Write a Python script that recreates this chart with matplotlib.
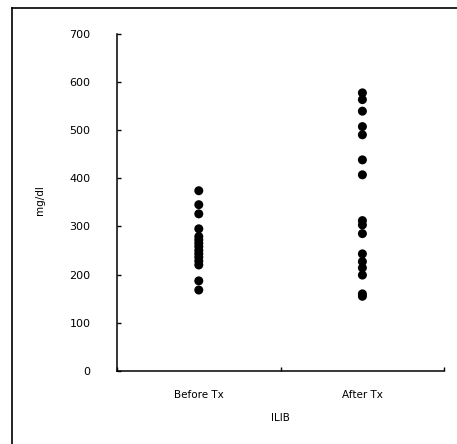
import numpy as np
import matplotlib
matplotlib.use("Agg")
import matplotlib.pyplot as plt
from matplotlib.lines import Line2D

# values (mg/dl)
groups = ["Before Tx", "After Tx"]
before_tx = [374, 345, 326, 295, 279, 272, 265, 258, 250, 243, 236, 228, 220, 187, 168]
after_tx = [577, 563, 539, 507, 490, 438, 407, 312, 303, 285, 243, 227, 214, 199, 160, 155]
yticks = [0, 100, 200, 300, 400, 500, 600, 700]

fig = plt.figure(figsize=(4.57, 4.44), dpi=100)
ax = fig.add_axes([0.256, 0.1644, 0.716, 0.760])

for i, vals in enumerate([before_tx, after_tx]):
    ax.scatter(np.full(len(vals), i + 0.5), vals, s=42, color="black", edgecolors="none")

ax.set_xlim(0, 2)
ax.set_ylim(0, 700)
ax.set_yticks(yticks)
ax.set_xticks([0, 1, 2])
ax.set_xticklabels([])
ax.set_xticks([0.5, 1.5], minor=True)
ax.set_xticklabels(groups, minor=True, fontsize=7.5)
ax.tick_params(axis="x", which="minor", length=0, pad=14)
ax.tick_params(axis="x", which="major", direction="in", length=3, width=1)
ax.tick_params(axis="y", direction="in", length=3, width=1, pad=19, labelsize=8)

ax.spines["top"].set_visible(False)
ax.spines["right"].set_visible(False)
ax.spines["left"].set_linewidth(1.1)
ax.spines["bottom"].set_linewidth(1.1)

ax.set_ylabel("mg/dl", fontsize=7.5)
ax.yaxis.set_label_coords(-0.22, 0.507)
ax.set_xlabel("ILIB", fontsize=7.5)
ax.xaxis.set_label_coords(0.5, -0.125)

# outer frame of the scanned figure (top and left edges only)
fig.add_artist(Line2D([12 / 457, 1], [1 - 8 / 444, 1 - 8 / 444], color="black", lw=1.2))
fig.add_artist(Line2D([12 / 457, 12 / 457], [0, 1 - 8 / 444], color="black", lw=1.2))

fig.savefig("out.png", dpi=100)
